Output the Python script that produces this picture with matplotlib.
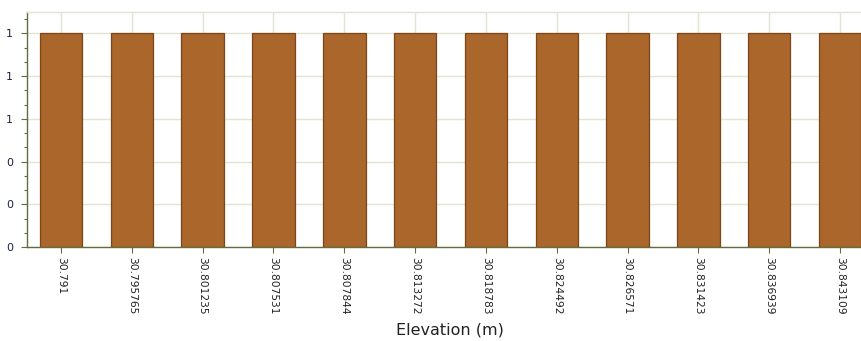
import numpy as np
import matplotlib
matplotlib.use("Agg")
import matplotlib.pyplot as plt
from matplotlib.ticker import FixedLocator, AutoMinorLocator, FuncFormatter

# elevation bins and their counts
elevations = ["30.791", "30.795765", "30.801235", "30.807531", "30.807844",
              "30.813272", "30.818783", "30.824492", "30.826571", "30.831423",
              "30.836939", "30.843109"]
counts = [1, 1, 1, 1, 1, 1, 1, 1, 1, 1, 1, 1]

bar_color = '#aa662b'
edge_color = '#7a461a'
grid_color = '#e3e3cf'
axis_color = '#5f6e3c'

fig = plt.figure(figsize=(8.62, 3.41), dpi=100)
ax = fig.add_axes([27 / 862, 94 / 341, 835 / 862, 235 / 341])

x = np.arange(len(elevations))
ax.bar(x, counts, width=0.6, color=bar_color, edgecolor=edge_color,
       linewidth=0.9, zorder=3)

ax.set_xlim(-0.48, len(elevations) - 1 + 0.31)
ax.set_ylim(0, 1.1)

ax.set_xticks(x)
ax.set_xticklabels(elevations, rotation=270, fontsize=7.7, color='#222222')
ax.yaxis.set_major_locator(FixedLocator([0, 0.2, 0.4, 0.6, 0.8, 1.0]))
ax.yaxis.set_major_formatter(FuncFormatter(lambda v, pos: "{:.0f}".format(v)))
ax.yaxis.set_minor_locator(AutoMinorLocator(3))
for lab in ax.get_yticklabels():
    lab.set_fontsize(8)
    lab.set_color('#1a2240')

ax.tick_params(axis='x', length=4, width=0.8, color=axis_color, pad=3)
ax.tick_params(axis='y', which='major', length=4, width=0.8, color=axis_color, pad=6)
ax.tick_params(axis='y', which='minor', length=2.5, width=0.8, color=axis_color)

ax.grid(True, axis='both', which='major', color=grid_color, linewidth=1.0, zorder=0)
ax.set_axisbelow(True)

ax.spines['right'].set_visible(False)
ax.spines['top'].set_color(grid_color)
ax.spines['top'].set_linewidth(1.0)
for side in ['left', 'bottom']:
    ax.spines[side].set_color(axis_color)
    ax.spines[side].set_linewidth(1.0)

ax.set_xlabel("Elevation (m)", fontsize=11.5, color='#222222', labelpad=6)
ax.xaxis.set_label_coords(0.507, -0.32)

fig.savefig("out.png", dpi=100)
